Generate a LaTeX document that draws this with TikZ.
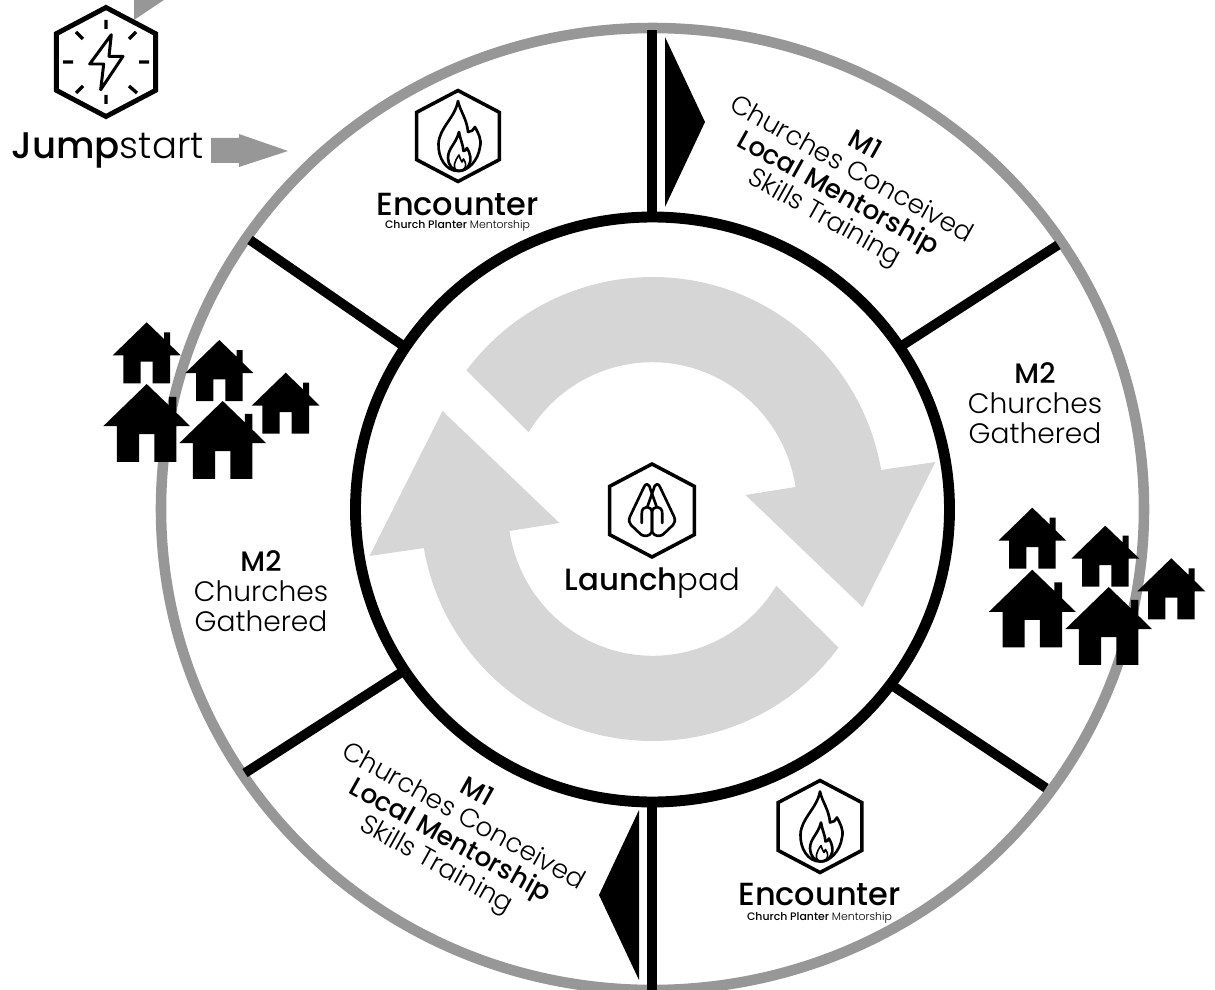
\documentclass[tikz,border=0pt]{standalone}
\usepackage{fontspec}
\setmainfont{Poppins Light}
\newfontfamily\heavyfont{Poppins Medium}
\definecolor{ringgray}{HTML}{979797}
\definecolor{loopgray}{HTML}{D6D6D6}
\newcommand{\hvy}[1]{{\heavyfont #1}}
\newcommand{\fsize}[1]{\fontsize{#1}{#1}\selectfont}
\tikzset{
	ring/.style={draw=ringgray,line width=6pt},
	wheel/.style={draw=black,line width=6.2pt},
	spoke/.style={draw=black,line width=5.5pt},
	icon/.style={draw=black,line width=1.5pt,line join=round,line cap=round},
	hexline/.style={draw=black,line width=#1,line join=miter},
	label/.style={font=\fsize{16},align=center,inner sep=0pt},
	slanted/.style={label,font=\fontsize{15}{15.6}\selectfont,rotate=-29.2},
}
% hexagon round a centre: x, y, size, line
\newcommand{\hexicon}[4]{\draw[hexline=#4,shift={(#1,#2)},scale=#3] (0,-1) -- (.91,-.52) -- (.91,.52) -- (0,1) -- (-.91,.52) -- (-.91,-.52) -- cycle;}
% apex at x, y
\newcommand{\house}[3]{\fill[black,shift={(#1,#2)},scale=#3] (0,0) -- (17.3,16.7) -- (17.3,10) -- (23.3,10) -- (23.3,22.5) -- (34,33) -- (23.3,33) -- (23.3,61) -- (6,61) -- (6,39.4) -- (-6,39.4) -- (-6,61) -- (-23.3,61) -- (-23.3,33) -- (-34,33) -- cycle;}
\newcommand{\flame}[2]{\begin{scope}[shift={(#1,#2)}]
	\draw[icon] (0,-35) .. controls (2,-25) and (9,-17) .. (10,-4) .. controls (13,-4) and (16,-6) .. (17,-9) .. controls (20,-3) and (24,3) .. (22,11) .. controls (20,25) and (10,35) .. (0,35) .. controls (-12,35) and (-20,22) .. (-19.5,8) .. controls (-19,-8) and (-3,-18) .. (0,-35) -- cycle;
	\draw[icon] (1,-4) .. controls (2,3) and (5,8) .. (5.5,15) .. controls (7,15) and (8,14) .. (9,12) .. controls (12,17) and (14,24) .. (11,29) .. controls (9,33) and (5,35) .. (1,35) .. controls (-5,35) and (-10,29) .. (-10,22) .. controls (-10,12) and (-2,8) .. (1,-4) -- cycle;
	\draw[icon,line width=.9pt] (1,19) .. controls (1.5,22) and (3,24) .. (4,26) -- (5.5,23) .. controls (7.5,26) and (9,30) .. (6,33) .. controls (4,35) and (0,35) .. (-2,34) .. controls (-5,31) and (-4,26) .. (1,19) -- cycle;
\end{scope}}
\newcommand{\palm}[1]{\draw[icon,shift={(652,510)},xscale=#1] (-4.7,-3) -- (2.7,-24) .. controls (3.2,-26) and (6.5,-27) .. (8,-23) -- (22,6.5) .. controls (23.5,10) and (23,13) .. (21,15) -- (11,24.5) .. controls (8,26.5) and (3,27) .. (0,22) -- (0,4) .. controls (0,-1) and (2,-3) .. (5,-3) .. controls (8,-3) and (10.3,-1) .. (10.3,4) -- (10.3,13);}
\newcommand{\loopblade}[1]{\fill[loopgray,shift={(652.5,509)},rotate=#1] (-143.3:232 and 232) arc[start angle=-143.3,end angle=-9.7,x radius=232,y radius=232] -- (283,-47) -- (210,98) -- (93,-14) -- (143,-22) arc[start angle=-8.7,end angle=-148.4,x radius=145,y radius=147] -- cycle;}

\begin{document}
\begin{tikzpicture}[x=.02cm,y=-.02cm]
	\useasboundingbox (0,0) rectangle (1215,990);
	\begin{scope}
		\clip (0,0) rectangle (1215,990);
		\draw[ring] (652.5,509) ellipse (491.5 and 481);
		\draw[spoke,line width=5.7pt] (652,30) -- (652,215);
		\draw[spoke,line width=5.7pt] (652,805) -- (652,990);
		\draw[spoke] (1058,245) -- (903,345);
		\draw[spoke] (250,240) -- (402,345);
		\draw[spoke] (245,773) -- (402,672);
		\draw[spoke] (1046,788) -- (893,686);
		\fill (665,37) -- (705,122) -- (665,207) -- cycle;
		\fill (639,810) -- (599,895) -- (639,980) -- cycle;
		\draw[wheel] (652.5,509.5) ellipse (297 and 292.5);
		\loopblade{0}
		\loopblade{180}
	\end{scope}
	% jumpstart
	\fill[ringgray] (134,20) -- (134,0) -- (164,0) -- cycle;
	\fill[ringgray] (211,138) -- (239,138) -- (239,134) -- (288,151) -- (239,167) -- (239,163) -- (211,163) -- cycle;
	\hexicon{106}{62}{54.5}{2.8pt}
	\draw[icon,line width=1.9pt,line cap=butt] (106,20) -- (106,29) (106,95) -- (106,104) (63,62) -- (73,62) (139,62) -- (149,62)
		(76,32) -- (83,39) (136,32) -- (129,39) (76,93) -- (83,86) (137,93) -- (129,86);
	\draw[icon,line width=1.7pt] (111.3,34.7) -- (89.7,64) -- (103.7,64) -- (100.7,89.7) -- (123,56.3) -- (109,56.3) -- cycle;
	\node[label,font=\fsize{21.1},anchor=base west] (jumpstart) at (11,159) {\hvy{Jump}start};
	% encounter top
	\hexicon{458}{136}{45.5}{2pt}
	\flame{458}{136}
	\node[label,font=\heavyfont\fsize{18.2},anchor=base] (encountertop) at (457.5,215) {Encounter};
	\node[label,font=\fsize{6.2},anchor=base] (plantertop) at (457.5,228.5) {\hvy{Church Planter} Mentorship};
	% encounter bottom
	\hexicon{820}{826.5}{46}{2pt}
	\flame{820}{826.5}
	\node[label,font=\heavyfont\fsize{18.2},anchor=base] (encounterbottom) at (819.5,905) {Encounter};
	\node[label,font=\fsize{6.2},anchor=base] (planterbottom) at (819.5,920.5) {\hvy{Church Planter} Mentorship};
	% launchpad
	\hexicon{652}{510.5}{46.5}{2pt}
	\palm{1}
	\palm{-1}
	\node[label,font=\fsize{17.5},anchor=base] (launchpad) at (652.5,590) {\hvy{Launch}pad};
	% labels
	\node[label] (mtworight) at (1035,403) {\hvy{M2}\\[1pt]Churches\\[1pt]Gathered};
	\node[label] (mtwoleft) at (261,591) {\hvy{M2}\\[1pt]Churches\\[1pt]Gathered};
	\node[slanted] (moneright) at (844,183) {\hvy{M1}\\Churches Conceived\\\hvy{Local Mentorship}\\Skills Training};
	\begin{scope}
		\clip (300,700) rectangle (640,916);
		\node[slanted] (moneleft) at (456,830) {\hvy{M1}\\Churches Conceived\\\hvy{Local Mentorship}\\Skills Training};
	\end{scope}
	% houses left
	\house{146.7}{322.3}{1}
	\house{219.3}{340}{1}
	\house{285.7}{372.7}{1}
	\house{146.7}{384}{1.275}
	\house{222.7}{401}{1.275}
	% houses right
	\house{1032.3}{507.7}{1}
	\house{1105.3}{525.7}{1}
	\house{1171.3}{558.3}{1}
	\house{1032.3}{569.7}{1.275}
	\house{1108.7}{587}{1.275}
\end{tikzpicture}
\end{document}
